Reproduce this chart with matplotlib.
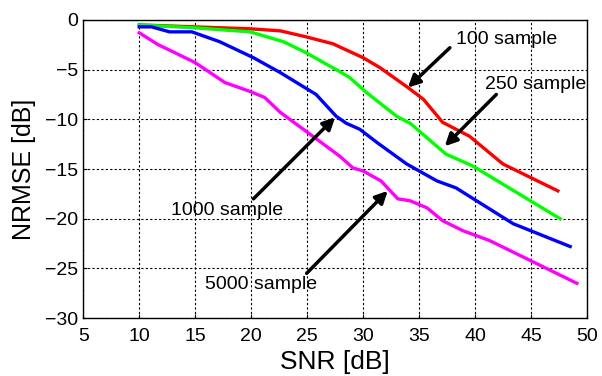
import matplotlib
matplotlib.use("Agg")
import matplotlib.pyplot as plt

plt.rcParams['font.family'] = ['Liberation Sans', 'DejaVu Sans']

## data (SNR in dB, NRMSE in dB)
snr_100 = [10, 15, 20, 22.6, 24.9, 27.3, 30.0, 31.5, 34.0, 35.4, 37.1, 39.5, 42.5, 47.4]
nrmse_100 = [-0.5, -0.7, -0.9, -1.1, -1.7, -2.4, -3.8, -4.8, -6.8, -8.0, -10.3, -11.7, -14.5, -17.2]

snr_250 = [10, 15, 19.9, 22.9, 24.9, 27.9, 28.8, 30.3, 33.0, 34.2, 37.4, 39.8, 47.6]
nrmse_250 = [-0.5, -0.8, -1.2, -2.2, -3.3, -5.2, -5.8, -7.3, -9.7, -10.4, -13.5, -14.7, -20.0]

snr_1000 = [10, 11.1, 12.7, 14.7, 17.2, 20.2, 22.6, 25.8, 27.6, 28.5, 29.7, 31.2,
            33.9, 36.6, 38.3, 43.4, 48.5]
nrmse_1000 = [-0.7, -0.7, -1.2, -1.2, -2.2, -3.8, -5.3, -7.5, -9.7, -10.4, -11.0, -12.3,
              -14.5, -16.2, -16.9, -20.5, -22.8]

snr_5000 = [10, 11.7, 13.0, 15.0, 17.65, 19.9, 21.2, 22.6, 25.5, 27.9, 29.1, 30.0,
            31.6, 33.1, 34.2, 35.7, 37.1, 38.9, 41.3, 49.1]
nrmse_5000 = [-1.3, -2.5, -3.2, -4.3, -6.3, -7.2, -7.8, -9.3, -11.7, -13.7, -14.9, -15.2,
              -16.2, -18.0, -18.2, -18.9, -20.2, -21.2, -22.2, -26.5]

## annotations: label, text position, arrow tail, arrow head
labels = ['100 sample', '250 sample', '1000 sample', '5000 sample']
text_pos = [(38.3, -2.0), (40.9, -6.5), (12.8, -19.2), (15.9, -26.6)]
arrow_tail = [(37.75, -2.8), (41.9, -7.5), (20.2, -18.0), (24.95, -25.5)]
arrow_head = [(34.0, -6.8), (37.3, -12.7), (27.5, -9.8), (32.2, -17.2)]

fig = plt.figure(figsize=(6.02, 3.76), dpi=100)
ax = fig.add_axes([0.1384, 0.154, 0.8366, 0.793])

ax.plot(snr_100, nrmse_100, color='#ff0000', lw=2.4)
ax.plot(snr_250, nrmse_250, color='#00ff00', lw=2.4)
ax.plot(snr_1000, nrmse_1000, color='#0000ff', lw=2.4)
ax.plot(snr_5000, nrmse_5000, color='#ff00ff', lw=2.4)

for lab, tp, tail, head in zip(labels, text_pos, arrow_tail, arrow_head):
    ax.text(tp[0], tp[1], lab, fontsize=14, ha='left', va='center')
    ax.annotate('', xy=head, xytext=tail,
                arrowprops=dict(arrowstyle='-|>', color='black', lw=2.5,
                                mutation_scale=18, shrinkA=0, shrinkB=0))

ax.set_xlim(5, 50)
ax.set_ylim(-30, 0)
ax.set_xticks(range(5, 51, 5))
ax.set_yticks(range(-30, 1, 5))
ax.tick_params(direction='in', labelsize=14, length=3)
ax.tick_params(axis='x', pad=7)
ax.tick_params(axis='y', pad=4)
ax.grid(True, color='black', linestyle=(0, (2, 2)), lw=0.8)
for s in ax.spines.values():
    s.set_color('black')
    s.set_linewidth(1.0)

ax.set_xlabel('SNR [dB]', fontsize=19, labelpad=4)
ax.set_ylabel('NRMSE [dB]', fontsize=18, labelpad=6)

fig.savefig('out.png', dpi=100)
